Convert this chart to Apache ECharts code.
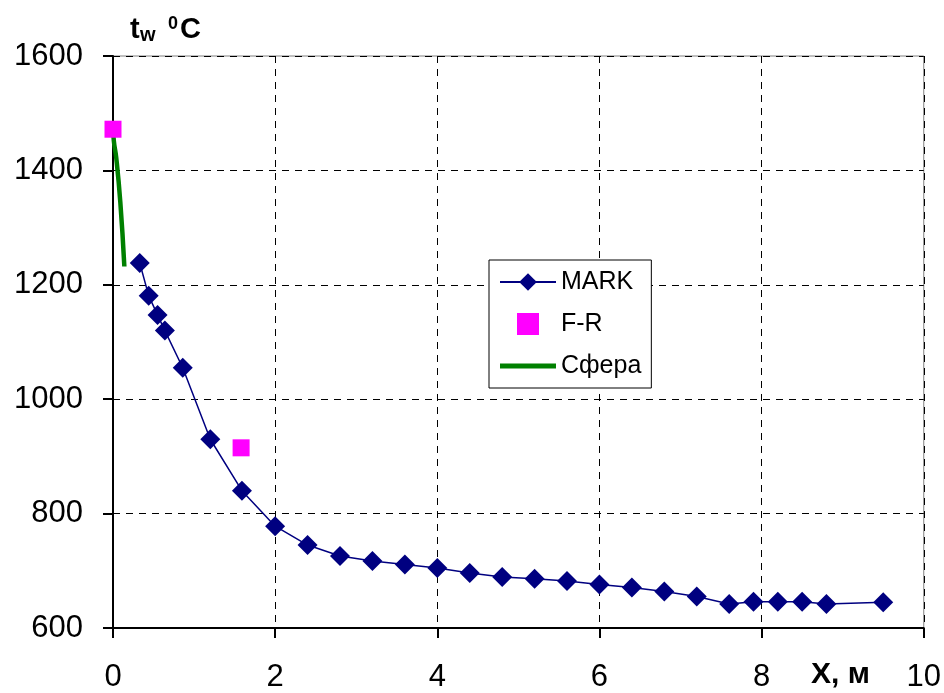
<!DOCTYPE html>
<html>
<head>
	<meta charset="utf-8">
	<title>tw chart</title>
	<style type="text/css">
		body { margin: 0; padding: 0; background: #fff; }
		#main { width: 944px; height: 693px; }
	</style>
	<script src="https://cdn.jsdelivr.net/npm/echarts@6/dist/echarts.min.js"></script>
</head>
<body>
	<div id="main"></div>
	<script type="text/javascript">

	// MARK series
	var markX = [0.33, 0.44, 0.55, 0.64, 0.86, 1.2, 1.59, 2.0, 2.4, 2.8, 3.2, 3.6, 4.0, 4.4, 4.8, 5.2, 5.6, 6.0, 6.4, 6.8, 7.2, 7.6, 7.9, 8.2, 8.5, 8.8, 9.5];
	var markY = [1238, 1181, 1147, 1120, 1055, 930, 840, 778, 745, 726, 717, 711, 705, 696, 689, 686, 682, 676, 671, 664, 655, 642, 646, 646, 646, 642, 645];

	// F-R points
	var frX = [0, 1.58];
	var frY = [1472, 915];

	// Сфера curve
	var sphX = [0, 0.01, 0.04, 0.09, 0.14];
	var sphY = [1480, 1452, 1422, 1345, 1232];

	function pairs(xs, ys) {
		var out = [];
		for (var i = 0; i < xs.length; i++) out.push([xs[i], ys[i]]);
		return out;
	}

	var chart = echarts.init(document.getElementById('main'));
	var font = '"Liberation Sans", Arial, sans-serif';
	var square = 'path://M0,0L1,0L1,1L0,1Z';
	// thick bar inside an empty 56x22 frame, so the legend keeps it thin
	var thickLine = 'path://M0,0L0.01,0ZM0,8.5L56,8.5L56,13.5L0,13.5ZM56,22L56.01,22Z';

	// y axis name: t with subscript w, then superscript 0 and C
	function boldText(str, size, x, y) {
		return {
			type: 'text', left: x, top: y,
			style: { text: str, font: 'bold ' + size + 'px ' + font, fill: '#000' }
		};
	}

	var option = {
		animation: false,
		textStyle: { fontFamily: font },
		grid: {
			left: 113, top: 56, right: 18, bottom: 65,
			show: true, borderColor: '#808080', borderWidth: 1
		},
		graphic: [
			boldText('t', 29, 130, 15),
			boldText('w', 20, 140, 25),
			boldText('0', 18, 168, 15),
			boldText('C', 29, 180, 15),
			boldText('X, м', 30, 811, 660)
		],
		legend: {
			orient: 'vertical',
			left: 489, top: 260,
			width: 170,
			padding: [8, 10, 8, 10],
			itemGap: 14,
			itemWidth: 56,
			itemHeight: 22,
			backgroundColor: '#fff',
			borderColor: '#000',
			borderWidth: 1,
			borderRadius: 0,
			textStyle: { fontFamily: font, fontSize: 25, color: '#000', lineHeight: 28 },
			data: [
				{ name: 'MARK' },
				{ name: 'F-R', icon: square, symbolKeepAspect: true, itemStyle: { color: '#ff00ff', opacity: 1 } },
				{ name: 'Сфера', icon: thickLine, itemStyle: { color: '#008000', opacity: 1 } }
			]
		},
		xAxis: {
			type: 'value',
			min: 0, max: 10, interval: 2,
			axisLine: { lineStyle: { color: '#000', width: 2 } },
			axisTick: { show: true, length: 10, inside: false, lineStyle: { color: '#000', width: 2 } },
			axisLabel: { fontFamily: font, fontSize: 31, color: '#000', margin: 34 },
			splitLine: { show: true, lineStyle: { color: '#000', type: [7, 6], width: 1 } }
		},
		yAxis: {
			type: 'value',
			min: 600, max: 1600, interval: 200,
			axisLine: { show: true, lineStyle: { color: '#000', width: 2 } },
			axisTick: { show: true, length: 10, inside: false, lineStyle: { color: '#000', width: 2 } },
			axisLabel: { fontFamily: font, fontSize: 31, color: '#000', margin: 30, formatter: function (v) { return String(v); } },
			splitLine: { show: true, lineStyle: { color: '#000', type: [7, 6], width: 1 } }
		},
		series: [
			{
				name: 'Сфера',
				type: 'line',
				data: pairs(sphX, sphY),
				smooth: true,
				symbol: 'none',
				lineStyle: { color: '#008000', width: 4.5 },
				itemStyle: { color: '#008000' },
				z: 3
			},
			{
				name: 'MARK',
				type: 'line',
				data: pairs(markX, markY),
				symbol: 'diamond',
				symbolSize: 20,
				showAllSymbol: true,
				lineStyle: { color: '#000080', width: 1.5 },
				itemStyle: { color: '#000080' },
				z: 4
			},
			{
				name: 'F-R',
				type: 'scatter',
				data: pairs(frX, frY),
				symbol: 'rect',
				symbolSize: 17,
				itemStyle: { color: '#ff00ff', opacity: 1 },
				z: 5
			}
		]
	};

	chart.setOption(option);
	</script>
</body>
</html>
